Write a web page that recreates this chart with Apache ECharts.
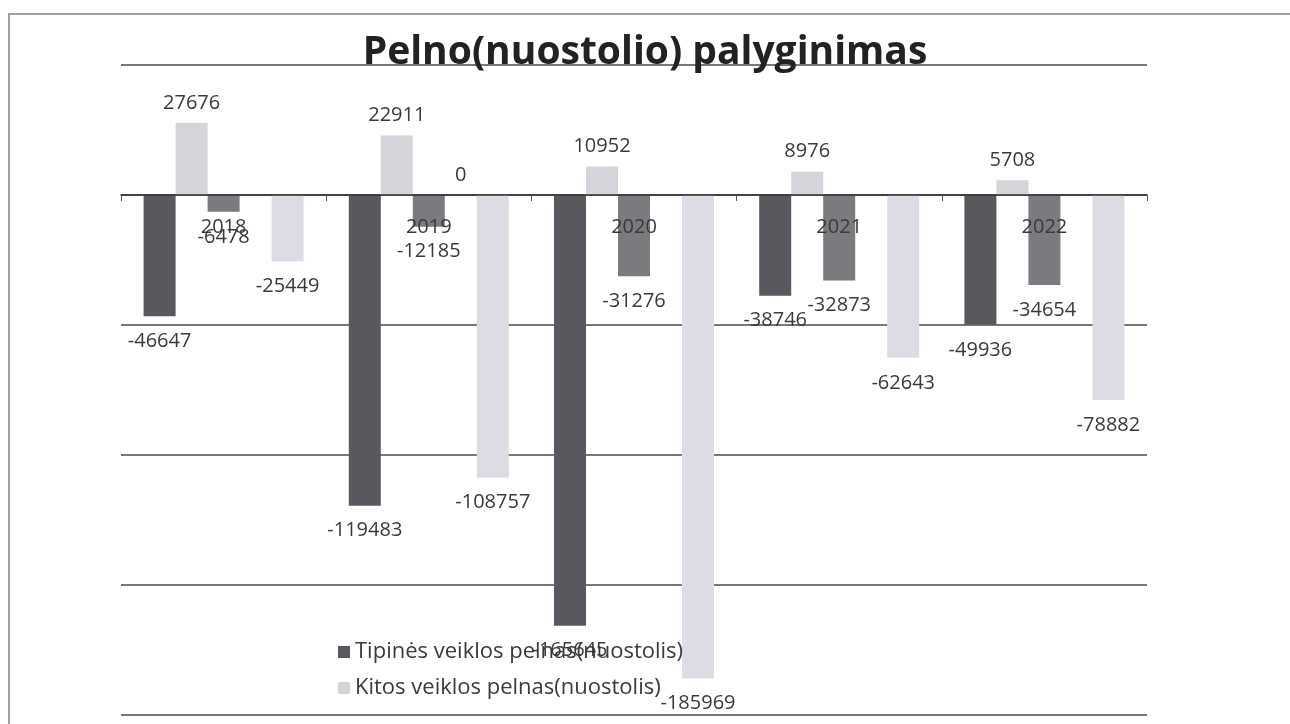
<!DOCTYPE html>
<html>
<head>
<meta charset="utf-8">
<script src="https://cdn.jsdelivr.net/npm/echarts@6/dist/echarts.min.js"></script>
<style>
  html, body { margin: 0; padding: 0; background: #fff; }
  #chart { width: 1290px; height: 724px; }
  .frame {
    position: absolute; left: 8px; top: 13px; right: 0; bottom: 0;
    border-left: 2px solid #a0a0a0; border-top: 2px solid #a0a0a0;
    pointer-events: none;
  }
</style>
</head>
<body>
<div id="chart"></div>
<div class="frame"></div>
<script>
const years = ['2018', '2019', '2020', '2021', '2022'];
const tipines = [-46647, -119483, -165645, -38746, -49936];
const kitos = [27676, 22911, 10952, 8976, 5708];
const finansines = [-6478, -12185, -31276, -32873, -34654];
const mokestis = [null, 0, null, null, null];
const grynasis = [-25449, -108757, -185969, -62643, -78882];

const labelFont = { fontFamily: 'Open Sans', fontSize: 20, color: '#3a3a3a' };

// positive values get labels above the bar, negative ones below
const withLabels = (values) =>
  values.map((v) => ({
    value: v,
    label: {
      position: v < 0 ? 'bottom' : 'top',
      distance: v < 0 ? 15 : 10,
    },
  }));

const makeSeries = (name, values, color) => ({
  name,
  type: 'bar',
  barWidth: 32,
  barGap: '0%',
  data: withLabels(values),
  itemStyle: { color },
  label: { show: true, ...labelFont },
});

const chart = echarts.init(document.getElementById('chart'));

chart.setOption({
  animation: false,
  backgroundColor: '#fff',
  title: {
    text: 'Pelno(nuostolio) palyginimas',
    left: 'center',
    top: 28,
    textStyle: {
      fontFamily: 'Open Sans',
      fontSize: 39,
      fontWeight: 'bold',
      color: '#222',
    },
  },
  legend: {
    orient: 'vertical',
    left: 333,
    top: 636,
    itemGap: 14,
    itemWidth: 12,
    itemHeight: 12,
    icon: 'rect',
    data: ['Tipinės veiklos pelnas(nuostolis)', 'Kitos veiklos pelnas(nuostolis)'],
    textStyle: { fontFamily: 'Open Sans', fontSize: 22, color: '#3a3a3a' },
  },
  grid: {
    left: 121,
    right: 143,
    top: 65,
    bottom: 9,
    outerBoundsMode: 'none',
    containLabel: false,
  },
  xAxis: {
    type: 'category',
    data: years,
    position: 'bottom',
    z: 5,
    // axis sits on the zero line (0 is at 1/5 of the plot height from the top)
    offset: -520,
    axisLine: { onZero: false, lineStyle: { color: '#333', width: 1.5 } },
    axisTick: { show: true, length: 6, lineStyle: { color: '#555' } },
    axisLabel: { margin: 22, ...labelFont },
  },
  yAxis: {
    type: 'value',
    min: -200000,
    max: 50000,
    interval: 50000,
    axisLabel: { show: false },
    axisLine: { show: false },
    axisTick: { show: false },
    splitLine: { lineStyle: { color: '#4a4a4a', width: 1.5 } },
  },
  series: [
    makeSeries('Tipinės veiklos pelnas(nuostolis)', tipines, '#58585e'),
    makeSeries('Kitos veiklos pelnas(nuostolis)', kitos, '#d4d4db'),
    makeSeries('Finansinės ir investicinės veiklos pelnas(nuostolis)', finansines, '#7a7a7f'),
    makeSeries('Pelno mokestis', mokestis, '#a5a5ad'),
    makeSeries('Grynasis pelnas(nuostolis)', grynasis, '#dcdce4'),
  ],
});
</script>
</body>
</html>
